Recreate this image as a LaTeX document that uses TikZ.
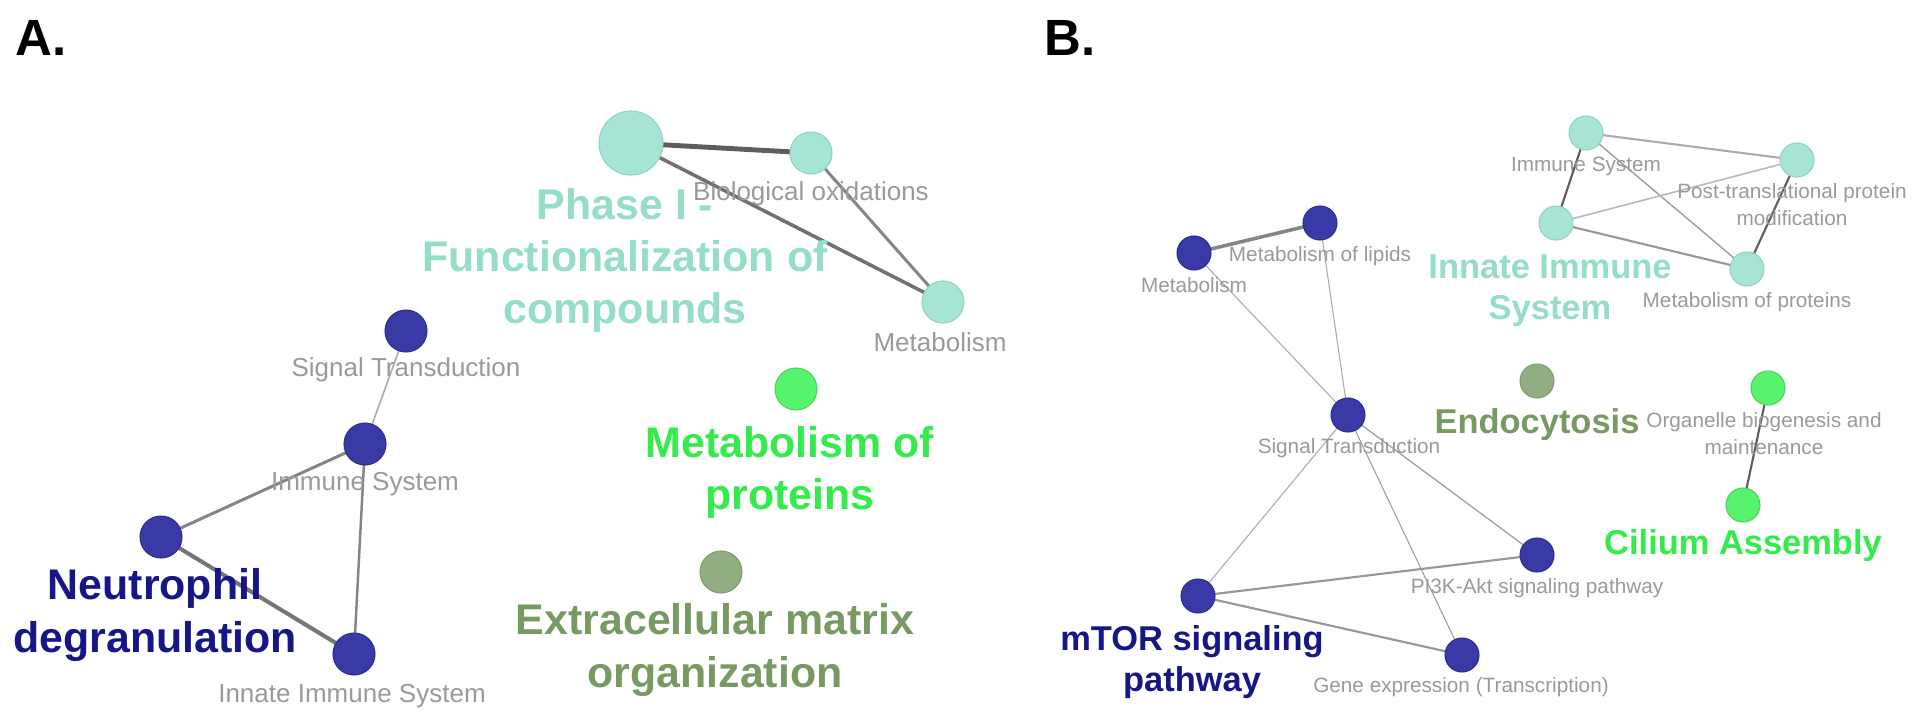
\documentclass[tikz,border=0pt]{standalone}
\usepackage{fontspec}
\setmainfont{Liberation Sans}
\usepackage{xcolor}
\usetikzlibrary{positioning,backgrounds}
\definecolor{tealfill}{HTML}{A6E5D5}
\definecolor{tealdraw}{HTML}{92D2C2}
\definecolor{tealtext}{HTML}{93DDC9}
\definecolor{bluefill}{HTML}{3A3AA6}
\definecolor{bluedraw}{HTML}{2C2C96}
\definecolor{bluetext}{HTML}{161687}
\definecolor{greenfill}{HTML}{55F46C}
\definecolor{greendraw}{HTML}{4AD35F}
\definecolor{greentext}{HTML}{33EC4C}
\definecolor{olivefill}{HTML}{90AE82}
\definecolor{olivedraw}{HTML}{7E9C70}
\definecolor{olivetext}{HTML}{789A62}
\definecolor{labelgray}{HTML}{9A9A9A}
\definecolor{linkdark}{HTML}{5E5E5E}
\definecolor{linkmid}{HTML}{858585}
\definecolor{linklight}{HTML}{ABABAB}
\tikzset{
    every picture/.style={line cap=round,line join=round},
    term/.style={circle,inner sep=0pt,outer sep=0pt,minimum size=4.2mm,line width=0.3pt},
    smallterm/.style={term,minimum size=3.4mm},
    hubterm/.style={term,minimum size=6.4mm},
    tealt/.style={fill=tealfill,draw=tealdraw},
    bluet/.style={fill=bluefill,draw=bluedraw},
    greent/.style={fill=greenfill,draw=greendraw},
    olivet/.style={fill=olivefill,draw=olivedraw},
    link/.style={draw=linkmid,line width=0.8pt},
    panellabel/.style={font=\bfseries\fontsize{14.5}{16}\selectfont,inner sep=0pt},
    groupA/.style={font=\bfseries\fontsize{12.2}{14.8}\selectfont,align=center,inner sep=0pt},
    groupB/.style={font=\bfseries\fontsize{9.8}{11.7}\selectfont,align=center,inner sep=0pt},
    termlabelA/.style={font=\fontsize{7.4}{8.9}\selectfont,text=labelgray,align=center,inner sep=0pt},
    termlabelB/.style={font=\fontsize{5.9}{7.7}\selectfont,text=labelgray,align=center,inner sep=0pt}
}
\begin{document}
\begin{tikzpicture}[x=0.1mm,y=-0.1mm]
  \useasboundingbox (0,0) rectangle (1920,718);
  % panel A
  \node[panellabel] (labA) at (41,38) {A.};
  \node[hubterm,tealt] (phase) at (631,143) {};
  \node[term,tealt] (bioox) at (811,153) {};
  \node[term,tealt] (metabA) at (943,302) {};
  \node[term,bluet] (signalA) at (406,331) {};
  \node[term,bluet] (immuneA) at (365,444) {};
  \node[term,bluet] (neutro) at (161,537) {};
  \node[term,bluet] (innateA) at (354,654) {};
  \node[term,greent] (protA) at (796,389) {};
  \node[term,olivet] (ecm) at (721,572) {};
  % panel B
  \node[panellabel] (labB) at (1070,38) {B.};
  \node[smallterm,tealt] (immuneB) at (1586,133) {};
  \node[smallterm,tealt] (posttr) at (1797,160) {};
  \node[smallterm,tealt] (innateB) at (1556,223) {};
  \node[smallterm,tealt] (protB) at (1747,269) {};
  \node[smallterm,bluet] (metabB) at (1194,253) {};
  \node[smallterm,bluet] (lipids) at (1320,223) {};
  \node[smallterm,bluet] (signalB) at (1348,415) {};
  \node[smallterm,olivet] (endo) at (1537,381) {};
  \node[smallterm,greent] (organ) at (1768,388) {};
  \node[smallterm,greent] (cilium) at (1743,505) {};
  \node[smallterm,bluet] (pik) at (1537,555) {};
  \node[smallterm,bluet] (mtor) at (1198,596) {};
  \node[smallterm,bluet] (gene) at (1462,655) {};
  % links, behind the terms
  \begin{scope}[on background layer]
    \fill[white] (0,0) rectangle (1920,718);
    \draw[link,draw=linkdark,line width=1.4pt] (phase) -- (bioox);
    \draw[link,draw=linkmid!85!black,line width=1pt] (phase) -- (metabA);
    \draw[link,line width=0.85pt] (bioox) -- (metabA);
    \draw[link,draw=linklight,line width=0.45pt] (signalA) -- (immuneA);
    \draw[link,line width=0.85pt] (immuneA) -- (neutro);
    \draw[link,line width=0.7pt] (immuneA) -- (innateA);
    \draw[link,draw=linkdark!85!white,line width=1.15pt] (neutro) -- (innateA);
    \draw[link,draw=linklight,line width=0.6pt] (immuneB) -- (posttr);
    \draw[link,draw=linkdark,line width=0.6pt] (immuneB) -- (innateB);
    \draw[link,draw=linkmid!80!white,line width=0.4pt] (immuneB) -- (protB);
    \draw[link,draw=linklight!85!white,line width=0.45pt] (innateB) -- (posttr);
    \draw[link,draw=linkmid!85!white,line width=0.6pt] (innateB) -- (protB);
    \draw[link,draw=linkdark,line width=0.6pt] (posttr) -- (protB);
    \draw[link,draw=linkmid,line width=1pt] (metabB) -- (lipids);
    \draw[link,draw=linklight,line width=0.3pt] (metabB) -- (signalB);
    \draw[link,draw=linklight,line width=0.3pt] (lipids) -- (signalB);
    \draw[link,draw=linklight,line width=0.3pt] (signalB) -- (mtor);
    \draw[link,draw=linkmid!80!white,line width=0.35pt] (signalB) -- (pik);
    \draw[link,draw=linkmid!80!white,line width=0.3pt] (signalB) -- (gene);
    \draw[link,draw=linkmid!85!white,line width=0.6pt] (mtor) -- (pik);
    \draw[link,draw=linkmid!85!white,line width=0.6pt] (mtor) -- (gene);
    \draw[link,draw=linkdark,line width=0.6pt] (organ) -- (cilium);
  \end{scope}
  % group names
  \node[groupA,text=tealtext] (phaseT) at (625,260) {Phase I -\\Functionalization of\\compounds};
  \node[groupA,text=bluetext] (neutroT) at (155,615) {Neutrophil\\degranulation};
  \node[groupA,text=greentext] (protAT) at (790,472) {Metabolism of\\proteins};
  \node[groupA,text=olivetext] (ecmT) at (715,650) {Extracellular matrix\\organization};
  \node[groupB,text=tealtext] (innateBT) at (1550,291) {Innate Immune\\System};
  \node[groupB,text=bluetext] (mtorT) at (1192,662) {mTOR signaling\\pathway};
  \node[groupB,text=olivetext] (endoT) at (1537,425) {Endocytosis};
  \node[groupB,text=greentext] (ciliumT) at (1743,546) {Cilium Assembly};
  % term names
  \node[termlabelA] (biooxL) at (811,194) {Biological oxidations};
  \node[termlabelA] (metabAL) at (940,342) {Metabolism};
  \node[termlabelA] (signalAL) at (406,370) {Signal Transduction};
  \node[termlabelA] (immuneAL) at (365,484) {Immune System};
  \node[termlabelA] (innateAL) at (352,696) {Innate Immune System};
  \node[termlabelB] (immuneBL) at (1586,166) {Immune System};
  \node[termlabelB] (posttrL) at (1792,205) {Post-translational protein\\modification};
  \node[termlabelB] (protBL) at (1747,302) {Metabolism of proteins};
  \node[termlabelB] (metabBL) at (1194,285) {Metabolism};
  \node[termlabelB] (lipidsL) at (1320,256) {Metabolism of lipids};
  \node[termlabelB] (signalBL) at (1349,448) {Signal Transduction};
  \node[termlabelB] (organL) at (1764,434) {Organelle biogenesis and\\maintenance};
  \node[termlabelB] (pikL) at (1537,588) {PI3K-Akt signaling pathway};
  \node[termlabelB] (geneL) at (1461,687) {Gene expression (Transcription)};
\end{tikzpicture}
\end{document}
